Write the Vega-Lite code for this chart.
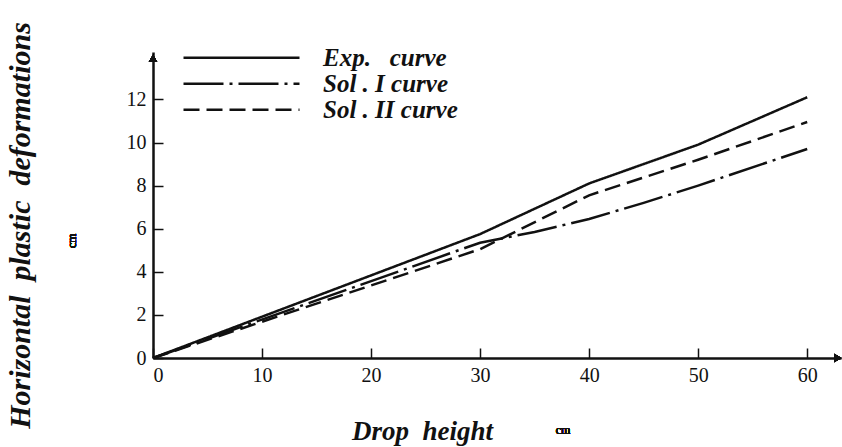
{
  "$schema": "https://vega.github.io/schema/vega-lite/v6.json",
  "autosize": "none",
  "padding": {"left": 153, "top": 52, "right": 1, "bottom": 89},
  "width": 688,
  "height": 306,
  "background": "white",
  "config": {
    "view": {"stroke": null},
    "font": "Liberation Serif",
    "axis": {"grid": false, "domainColor": "#111", "domainWidth": 2.5, "tickColor": "#111", "tickWidth": 1.5, "labelFont": "Liberation Serif", "labelColor": "#111", "titleFont": "Liberation Serif", "titleColor": "#111"}
  },
  "data": {
    "values": [
      {"h": 0, "d": 0, "s": "Exp.\u00a0\u00a0\u00a0curve"},
      {"h": 30, "d": 5.75, "s": "Exp.\u00a0\u00a0\u00a0curve"},
      {"h": 40, "d": 8.1, "s": "Exp.\u00a0\u00a0\u00a0curve"},
      {"h": 50, "d": 9.9, "s": "Exp.\u00a0\u00a0\u00a0curve"},
      {"h": 60, "d": 12.1, "s": "Exp.\u00a0\u00a0\u00a0curve"},
      {"h": 0, "d": 0, "s": "Sol . I curve"},
      {"h": 30, "d": 5.35, "s": "Sol . I curve"},
      {"h": 35, "d": 5.85, "s": "Sol . I curve"},
      {"h": 40, "d": 6.45, "s": "Sol . I curve"},
      {"h": 45, "d": 7.2, "s": "Sol . I curve"},
      {"h": 50, "d": 8.0, "s": "Sol . I curve"},
      {"h": 60, "d": 9.7, "s": "Sol . I curve"},
      {"h": 0, "d": 0, "s": "Sol . II curve"},
      {"h": 30, "d": 5.05, "s": "Sol . II curve"},
      {"h": 40, "d": 7.55, "s": "Sol . II curve"},
      {"h": 50, "d": 9.2, "s": "Sol . II curve"},
      {"h": 60, "d": 10.95, "s": "Sol . II curve"}
    ]
  },
  "layer": [
    {
      "mark": {"type": "line", "color": "#111", "strokeWidth": 2.5},
      "encoding": {
        "x": {"field": "h", "type": "quantitative", "scale": {"domain": [0, 63.1], "nice": false},
          "axis": {"values": [0, 10, 20, 30, 40, 50, 60], "tickSize": -10, "labelFontSize": 20, "labelPadding": 17, "title": "Drop\u00a0\u00a0height", "titleFontSize": 27, "titleFontStyle": "italic", "titleFontWeight": "bold", "titleX": 269, "titleY": 73, "titleBaseline": "middle", "titleAnchor": "middle"}},
        "y": {"field": "d", "type": "quantitative", "scale": {"domain": [0, 14.2], "nice": false},
          "axis": {"values": [0, 2, 4, 6, 8, 10, 12], "tickSize": -10, "labelFontSize": 20, "labelPadding": 17, "title": "Horizontal\u00a0\u00a0plastic\u00a0\u00a0deformations", "titleFontSize": 30, "titleFontStyle": "italic", "titleFontWeight": "bold", "titleAngle": 270, "titleX": -133, "titleY": 173, "titleBaseline": "middle", "titleAnchor": "middle"}},
        "strokeDash": {"field": "s", "type": "nominal",
          "scale": {"domain": ["Exp.\u00a0\u00a0\u00a0curve", "Sol . I curve", "Sol . II curve"], "range": [[1, 0], [40, 6, 3, 6], [16, 7]]},
          "legend": {"orient": "none", "legendX": 29, "legendY": -7, "title": null, "symbolType": "stroke", "symbolSize": 13456, "symbolStrokeWidth": 2.5, "symbolStrokeColor": "#111", "clipHeight": 25.6, "labelFont": "Liberation Serif", "labelFontSize": 25, "labelFontStyle": "italic", "labelFontWeight": "bold", "labelColor": "#111", "labelOffset": 22, "rowPadding": 0, "padding": 0, "labelLimit": 400}}
      }
    },
    {
      "mark": {"type": "point", "shape": "triangle-up", "filled": true, "color": "#111", "size": 70, "opacity": 1},
      "encoding": {"x": {"datum": 0}, "y": {"datum": 13.9}}
    },
    {
      "mark": {"type": "point", "shape": "triangle-right", "filled": true, "color": "#111", "size": 70, "opacity": 1},
      "encoding": {"x": {"datum": 62.8}, "y": {"datum": 0}}
    },
    {
      "mark": {"type": "text", "text": "cm", "fontSize": 12, "color": "#111", "font": "Liberation Serif"},
      "encoding": {"x": {"datum": 37.6}, "y": {"datum": -3.35}}
    },
    {
      "mark": {"type": "text", "text": "cm", "fontSize": 12, "color": "#111", "font": "Liberation Serif", "angle": 270},
      "encoding": {"x": {"datum": -7.4}, "y": {"datum": 5.43}}
    }
  ]
}
